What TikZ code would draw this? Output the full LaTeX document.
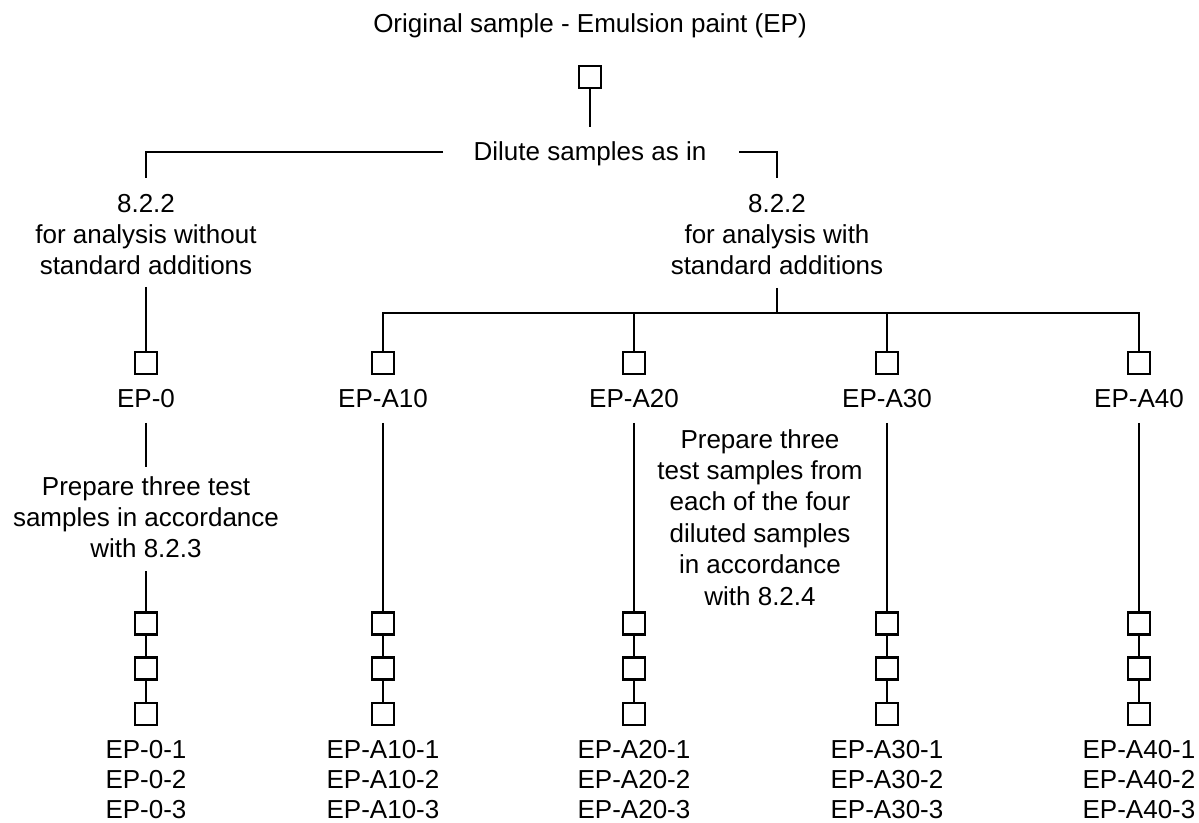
\documentclass[tikz,border=0pt]{standalone}
\usepackage{fontspec}
\setmainfont{Liberation Sans}
\begin{document}
\begin{tikzpicture}[x=0.5pt,y=-0.5pt,
  lbl/.style={inner sep=0pt, anchor=base, align=center, font=\fontsize{13}{15.5}\selectfont},
  lblb/.style={lbl, font=\fontsize{13}{15}\selectfont},
  lblm/.style={lbl, font=\fontsize{13}{15.7}\selectfont},
  sbox/.style={draw, line width=1.25pt, minimum size=11pt, inner sep=0pt, outer sep=0pt},
  conn/.style={line width=0.6pt}]
\useasboundingbox (0,0) rectangle (1199,823);

% top
\node[lbl] (title) at (590,33) {Original sample - Emulsion paint (EP)};
\node[sbox] (b0) at (590,77) {};
\coordinate (b0end) at (590,127);
\draw[conn] (b0.south) -- (b0end);
\node[lbl] (dilute) at (590,161) {Dilute samples as in};
\coordinate (hlA) at (443,152);
\coordinate (hlB) at (146,152);
\coordinate (hlC) at (146,178);
\coordinate (hrA) at (739,152);
\coordinate (hrB) at (777,152);
\coordinate (hrC) at (777,178);
\draw[conn] (hlA) -- (hlB) -- (hlC);
\draw[conn] (hrA) -- (hrB) -- (hrC);

% multi-line nodes: base anchor = baseline of last line
\node[lbl] (left) at (146,275) {8.2.2\\for analysis without\\standard additions};
\node[lbl] (right) at (777,275) {8.2.2\\for analysis with\\standard additions};

% second level boxes
\foreach \n/\x in {0/146, A10/383, A20/634, A30/887, A40/1139}{
  \node[sbox] (s\n) at (\x,363) {};
  \node[lbl] (l\n) at (\x,408) {EP-\n};
  \node[sbox] (t\n1) at (\x,623.5) {};
  \node[sbox] (t\n2) at (\x,668.5) {};
  \node[sbox] (t\n3) at (\x,714) {};
  \draw[conn] (t\n1.south) -- (t\n2.north);
  \draw[conn] (t\n2.south) -- (t\n3.north);
  \node[lblb] (r\n) at (\x,818) {EP-\n-1\\EP-\n-2\\EP-\n-3};
}

% left branch
\coordinate (lt) at (146,287);
\draw[conn] (lt) -- (s0.north);
\coordinate (l0a) at (146,423);
\coordinate (l0b) at (146,467);
\draw[conn] (l0a) -- (l0b);
\node[lbl] (prep0) at (146,557) {Prepare three test\\samples in accordance\\with 8.2.3};
\coordinate (l0c) at (146,571);
\draw[conn] (l0c) -- (t01.north);

% right branch
\coordinate (rt) at (777,288);
\coordinate (rj) at (777,313);
\draw[conn] (rt) -- (rj);
\draw[conn] (sA10.north) |- (sA40.north |- rj) -- (sA40.north);
\draw[conn] (sA20.north) -- (sA20.north |- rj);
\draw[conn] (sA30.north) -- (sA30.north |- rj);
\foreach \n/\x in {A10/383, A20/634, A30/887, A40/1139}{
  \coordinate (c\n) at (\x,423);
  \draw[conn] (c\n) -- (t\n1.north);
}

\node[lblm] (prepA) at (760,605) {Prepare three\\test samples from\\each of the four\\diluted samples\\in accordance\\with 8.2.4};
\end{tikzpicture}
\end{document}
